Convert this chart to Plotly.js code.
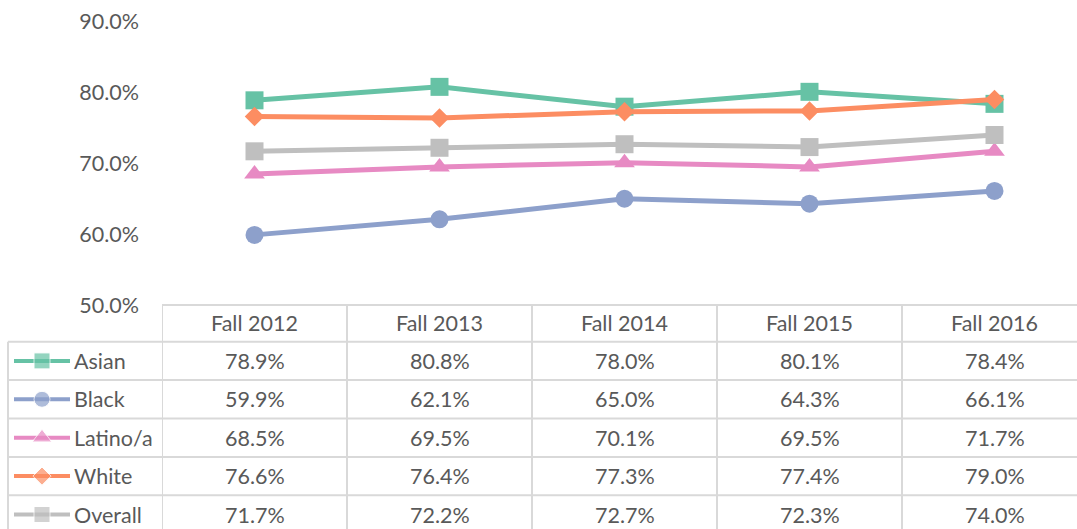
<!DOCTYPE html>
<html>
<head>
<meta charset="utf-8">
<script src="https://cdn.plot.ly/plotly-3.0.1.min.js"></script>
<style>html,body{margin:0;padding:0;background:#fff;}#chart{width:1077px;height:529px;}</style>
</head>
<body>
<div id="chart"></div>
<script>
const categories = ['Fall 2012', 'Fall 2013', 'Fall 2014', 'Fall 2015', 'Fall 2016'];
const seriesNames = ['Asian', 'Black', 'Latino/a', 'White', 'Overall'];
const asian   = [78.9, 80.8, 78.0, 80.1, 78.4];
const black   = [59.9, 62.1, 65.0, 64.3, 66.1];
const latino  = [68.5, 69.5, 70.1, 69.5, 71.7];
const white   = [76.6, 76.4, 77.3, 77.4, 79.0];
const overall = [71.7, 72.2, 72.7, 72.3, 74.0];
const yTicks  = [50, 60, 70, 80, 90];

const seriesValues = [asian, black, latino, white, overall];
const colors  = ['#66c2a5', '#8da0cb', '#e78ac3', '#fc8d62', '#bfbfbf'];
const symbols = ['square', 'circle', 'triangle-up', 'diamond', 'square'];
const sizes   = [18, 18, 18, 15, 18];
const legSizes = [16, 16, 17, 14, 16];

const W = 1077, H = 529;
const FONT = 'Lato, "Open Sans", sans-serif';
const FS = 21.5;
const TXT = '#595959';
const GRID = '#d9d9d9';

// layout constants (pixels)
const plotLeft = 162, plotTop = 21.7, plotBottom = 305;
const colW = 185;
const legLeft = 8;
const headerTop = 305, rowTop = 341.7, rowH = 38.4;

const traces = [];
seriesValues.forEach((vals, i) => {
  traces.push({
    type: 'scatter', mode: 'lines+markers',
    x: categories, y: vals, name: seriesNames[i],
    xaxis: 'x', yaxis: 'y',
    line: {color: colors[i], width: 5},
    marker: {symbol: symbols[i], size: sizes[i], color: colors[i]},
    cliponaxis: false, hoverinfo: 'skip', showlegend: false
  });
  // legend swatch in the data table (pixel axis x3/y3)
  const yc = rowTop + rowH * (i + 0.5);
  traces.push({
    type: 'scatter', mode: 'lines+markers',
    x: [14, 42, 70], y: [yc, yc, yc],
    xaxis: 'x3', yaxis: 'y3',
    line: {color: colors[i], width: 4},
    marker: {symbol: symbols[i], size: [0, legSizes[i], 0], color: colors[i]},
    hoverinfo: 'skip', showlegend: false
  });
});

const shapes = [];
const annotations = [];
const ln = {color: GRID, width: 2};
// header top line
shapes.push({type: 'line', xref: 'x3', yref: 'y3', x0: plotLeft, x1: W + 5, y0: headerTop, y1: headerTop, line: ln});
// row lines
for (let r = 0; r <= seriesNames.length; r++) {
  const y = rowTop + rowH * r;
  shapes.push({type: 'line', xref: 'x3', yref: 'y3', x0: legLeft, x1: W + 5, y0: y, y1: y, line: ln});
}
// legend column left border
shapes.push({type: 'line', xref: 'x3', yref: 'y3', x0: legLeft, x1: legLeft, y0: rowTop, y1: H + 5, line: ln});
// category column borders
for (let c = 0; c <= categories.length; c++) {
  shapes.push({type: 'line', xref: 'x', yref: 'y3', x0: c - 0.5, x1: c - 0.5, y0: headerTop, y1: H + 5, line: ln});
}
// header labels
categories.forEach((cat, c) => {
  annotations.push({xref: 'x', yref: 'y3', x: c, y: (headerTop + rowTop) / 2, text: cat, showarrow: false,
    xanchor: 'center', yanchor: 'middle', font: {family: FONT, size: FS, color: TXT}});
});
// row labels and values
seriesNames.forEach((nm, i) => {
  const yc = rowTop + rowH * (i + 0.5);
  annotations.push({xref: 'x3', yref: 'y3', x: 72, y: yc, text: nm, showarrow: false,
    xanchor: 'left', yanchor: 'middle', font: {family: FONT, size: FS, color: TXT}});
  seriesValues[i].forEach((v, c) => {
    annotations.push({xref: 'x', yref: 'y3', x: c, y: yc, text: v.toFixed(1) + '%', showarrow: false,
      xanchor: 'center', yanchor: 'middle', font: {family: FONT, size: FS, color: TXT}});
  });
});

const layout = {
  width: W, height: H,
  margin: {l: 0, r: 0, t: 0, b: 0, pad: 0},
  paper_bgcolor: '#ffffff', plot_bgcolor: 'rgba(0,0,0,0)',
  showlegend: false,
  xaxis: {
    type: 'category', domain: [plotLeft / W, 1],
    range: [-0.5, (W - plotLeft) / colW - 0.5],
    showticklabels: false, showgrid: false, zeroline: false, showline: false, ticks: '', fixedrange: true
  },
  yaxis: {
    domain: [1 - plotBottom / H, 1 - plotTop / H],
    range: [50, 90], tickvals: yTicks, ticktext: yTicks.map(v => v.toFixed(1) + '%'),
    showgrid: false, zeroline: false, showline: false, ticks: '',
    ticklabelstandoff: 22,
    tickfont: {family: FONT, size: FS, color: TXT}, fixedrange: true
  },
  xaxis3: {domain: [0, 1], range: [0, W], visible: false, fixedrange: true, anchor: 'y3'},
  yaxis3: {domain: [0, 1], range: [H, 0], visible: false, fixedrange: true, anchor: 'x3'},
  shapes: shapes,
  annotations: annotations
};

Plotly.newPlot('chart', traces, layout, {displayModeBar: false, staticPlot: true});
</script>
</body>
</html>
